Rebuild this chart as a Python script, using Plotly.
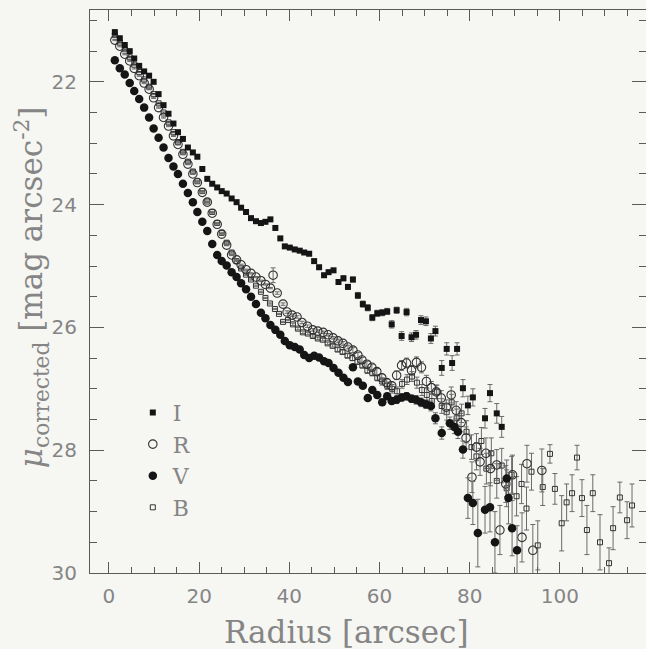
import plotly.graph_objects as go

# Surface-brightness profiles, mu_corrected [mag arcsec^-2] versus radius [arcsec]

# ---- I band ----
r_I = [1.3, 2.4, 3.5, 4.6, 5.6, 6.7, 7.8, 8.9, 9.9,
       11.0, 12.1, 13.2, 14.3, 15.3, 16.4, 17.5, 18.6, 19.6,
       20.7, 21.8, 22.9, 24.0, 25.0, 26.1, 27.2, 28.3, 29.3,
       30.4, 31.5, 32.6, 33.7, 34.7, 35.8, 36.9, 38.0, 39.0,
       40.1, 41.2, 42.3, 43.3, 44.4, 45.5, 46.6, 47.7, 48.7, 49.8,
       50.9, 52.0, 53.0, 54.1, 55.2, 56.3, 57.4, 58.4, 59.5,
       60.6, 61.7, 62.7, 63.8, 64.9, 66.0, 67.1, 68.1, 69.2,
       70.3, 71.4, 72.4, 73.8, 74.9, 76.1, 77.2, 78.5, 79.6,
       80.7, 83.4, 84.5, 86.0, 87.1]
mu_I = [21.19, 21.29, 21.40, 21.50, 21.62, 21.74, 21.83, 21.90, 22.00,
        22.20, 22.38, 22.52, 22.68, 22.82, 22.93, 23.07, 23.15, 23.22,
        23.42, 23.58, 23.66, 23.72, 23.78, 23.82, 23.90, 23.96, 24.05,
        24.12, 24.22, 24.27, 24.30, 24.28, 24.24, 24.38, 24.55, 24.68,
        24.70, 24.73, 24.75, 24.78, 24.80, 24.92, 25.02, 25.15, 25.10, 25.07,
        25.26, 25.20, 25.34, 25.22, 25.48, 25.62, 25.68, 25.84, 25.77,
        25.76, 25.74, 25.95, 25.72, 26.14, 25.75, 26.16, 26.12, 25.88,
        25.90, 26.18, 26.06, 26.66, 26.35, 26.58, 26.35, 26.99, 27.27,
        27.14, 27.48, 27.07, 27.40, 27.62]
err_I = [0.01, 0.01, 0.01, 0.01, 0.01, 0.01, 0.01, 0.01, 0.01,
         0.01, 0.01, 0.01, 0.01, 0.01, 0.01, 0.01, 0.01, 0.01,
         0.01, 0.01, 0.01, 0.01, 0.01, 0.01, 0.01, 0.01, 0.01,
         0.01, 0.01, 0.01, 0.01, 0.01, 0.01, 0.01, 0.01, 0.01,
         0.02, 0.02, 0.02, 0.02, 0.03, 0.03, 0.03, 0.03, 0.03, 0.03,
         0.04, 0.04, 0.04, 0.04, 0.05, 0.05, 0.05, 0.05, 0.05,
         0.05, 0.05, 0.06, 0.05, 0.07, 0.06, 0.07, 0.07, 0.07,
         0.07, 0.08, 0.08, 0.12, 0.10, 0.12, 0.10, 0.14, 0.15,
         0.14, 0.16, 0.14, 0.16, 0.17]

# ---- R band ----
r_R = [1.3, 2.4, 3.5, 4.6, 5.6, 6.7, 7.8, 8.9, 9.9,
       11.0, 12.1, 13.2, 14.3, 15.3, 16.4, 17.5, 18.6, 19.6,
       20.7, 21.8, 22.9, 24.0, 25.0, 26.1, 27.2, 28.3, 29.3,
       30.4, 31.5, 32.6, 33.7, 34.7, 35.8, 36.4, 37.3, 38.6, 39.5,
       40.6, 41.7, 42.8, 44.0, 45.2, 46.3, 47.5, 48.6, 49.7,
       50.8, 51.9, 53.0, 54.1, 55.2, 56.1, 57.2, 58.3, 59.4,
       60.5, 61.6, 62.7, 63.8, 64.9, 66.0, 67.1, 68.2, 69.3,
       70.4, 71.5, 72.6, 73.7, 74.8, 75.9, 77.0, 78.1, 79.2,
       80.5, 81.5, 82.3, 83.6, 84.6, 86.0, 86.7, 88.0, 89.5,
       91.6, 92.7, 94.0, 96.0]
mu_R = [21.32, 21.42, 21.55, 21.66, 21.78, 21.90, 22.02, 22.12, 22.26,
        22.42, 22.58, 22.72, 22.88, 23.02, 23.18, 23.34, 23.50, 23.64,
        23.80, 23.96, 24.14, 24.32, 24.48, 24.66, 24.82, 24.90, 24.98,
        25.06, 25.12, 25.18, 25.24, 25.30, 25.36, 25.15, 25.44, 25.62, 25.75,
        25.80, 25.83, 25.92, 25.98, 26.04, 26.06, 26.08, 26.12, 26.17,
        26.22, 26.26, 26.32, 26.37, 26.45, 26.53, 26.60, 26.65, 26.72,
        26.82, 26.90, 26.95, 26.78, 26.62, 26.58, 26.70, 26.57, 26.65,
        26.88, 26.98, 27.05, 27.15, 27.30, 27.10, 27.35, 27.55, 27.80,
        28.44, 27.95, 28.19, 28.05, 28.30, 28.24, 29.30, 28.55, 28.40,
        29.42, 28.22, 29.63, 28.33]
err_R = [0.01, 0.01, 0.01, 0.01, 0.01, 0.01, 0.01, 0.01, 0.01,
         0.01, 0.01, 0.01, 0.01, 0.01, 0.01, 0.01, 0.01, 0.01,
         0.01, 0.01, 0.01, 0.01, 0.01, 0.01, 0.01, 0.01, 0.01,
         0.01, 0.01, 0.01, 0.01, 0.01, 0.01, 0.12, 0.02, 0.02, 0.02,
         0.02, 0.02, 0.02, 0.02, 0.02, 0.02, 0.02, 0.02, 0.02,
         0.03, 0.03, 0.03, 0.04, 0.04, 0.04, 0.05, 0.05, 0.05,
         0.06, 0.06, 0.06, 0.07, 0.08, 0.08, 0.08, 0.09, 0.09,
         0.10, 0.10, 0.11, 0.12, 0.12, 0.13, 0.14, 0.15, 0.18,
         0.25, 0.22, 0.22, 0.25, 0.28, 0.25, 0.40, 0.30, 0.32,
         0.40, 0.30, 0.42, 0.35]

# ---- V band ----
r_V = [1.3, 2.4, 3.5, 4.6, 5.6, 6.7, 7.8, 8.9, 9.9,
       11.0, 12.1, 13.2, 14.3, 15.3, 16.4, 17.5, 18.6, 19.6,
       20.7, 21.8, 22.9, 24.0, 25.0, 26.1, 27.2, 28.3, 29.3,
       30.4, 31.5, 32.6, 33.7, 34.7, 35.8, 36.9, 38.0, 39.0,
       40.1, 41.2, 42.3, 43.3, 44.4, 45.5, 46.6, 47.7, 48.7, 49.8,
       50.9, 52.0, 53.0, 54.1, 55.2, 56.3, 57.4, 58.4, 59.5,
       60.6, 61.7, 62.7, 63.8, 64.9, 66.0, 67.1, 68.1, 69.2,
       70.3, 71.4, 72.4, 73.8, 75.6, 76.6, 77.4, 78.5, 79.6,
       80.7, 81.8, 83.4, 84.5, 85.6, 88.2, 88.6, 89.4, 90.5]
mu_V = [21.65, 21.78, 21.88, 22.02, 22.15, 22.28, 22.42, 22.58, 22.76,
        22.91, 23.07, 23.24, 23.38, 23.50, 23.66, 23.81, 23.96, 24.12,
        24.28, 24.43, 24.64, 24.82, 24.92, 24.99, 25.10, 25.18, 25.28,
        25.38, 25.50, 25.62, 25.76, 25.85, 25.96, 26.04, 26.12, 26.22,
        26.29, 26.32, 26.36, 26.45, 26.50, 26.46, 26.49, 26.55, 26.58, 26.66,
        26.74, 26.82, 26.89, 26.65, 26.88, 26.95, 27.15, 27.02, 27.10,
        27.22, 27.12, 27.20, 27.18, 27.14, 27.12, 27.16, 27.18, 27.22,
        27.25, 27.28, 27.48, 27.72, 27.56, 27.62, 27.70, 27.99, 28.78,
        28.86, 29.35, 28.97, 28.93, 29.50, 28.46, 28.78, 29.27, 29.63]
err_V = [0.01, 0.01, 0.01, 0.01, 0.01, 0.01, 0.01, 0.01, 0.01,
         0.01, 0.01, 0.01, 0.01, 0.01, 0.01, 0.01, 0.01, 0.01,
         0.01, 0.01, 0.01, 0.01, 0.01, 0.01, 0.01, 0.01, 0.01,
         0.01, 0.01, 0.01, 0.01, 0.01, 0.01, 0.01, 0.01, 0.01,
         0.02, 0.02, 0.02, 0.02, 0.02, 0.02, 0.02, 0.02, 0.02, 0.02,
         0.03, 0.03, 0.03, 0.03, 0.04, 0.04, 0.04, 0.04, 0.05,
         0.05, 0.05, 0.05, 0.06, 0.06, 0.06, 0.06, 0.07, 0.07,
         0.07, 0.08, 0.09, 0.10, 0.10, 0.11, 0.11, 0.14, 0.33,
         0.35, 0.55, 0.38, 0.40, 0.50, 0.30, 0.42, 0.45, 0.40]

# ---- B band ----
r_B = [1.3, 2.4, 3.5, 4.6, 5.6, 6.7, 7.8, 8.9, 9.9,
       11.0, 12.1, 13.2, 14.3, 15.3, 16.4, 17.5, 18.6, 19.6,
       20.7, 21.8, 22.9, 24.0, 25.0, 26.1, 27.2, 28.3, 29.3,
       30.4, 31.5, 32.6, 33.7, 34.7, 35.7, 36.8, 37.7, 38.6, 39.7,
       40.8, 41.9, 43.0, 44.1, 45.2, 46.3, 47.4, 48.5, 49.6,
       50.7, 51.8, 52.9, 54.0, 55.1, 56.2, 57.3, 58.4, 59.5,
       60.6, 61.7, 62.8, 63.9, 65.0, 66.1, 67.2, 68.3, 69.4,
       70.5, 71.6, 72.7, 73.8, 74.9, 76.0, 77.1, 78.2, 79.3,
       80.4, 81.5, 82.6, 83.7, 84.8, 86.0, 87.1, 88.2, 89.3,
       90.4, 91.5, 92.6, 93.7, 95.1, 96.2, 97.8, 98.9, 100.4,
       101.5, 102.7, 103.8, 104.9, 106.0, 107.3, 108.9, 110.9, 111.8,
       113.3, 114.9, 116.0]
mu_B = [21.24, 21.36, 21.47, 21.60, 21.72, 21.84, 21.96, 22.08, 22.20,
        22.35, 22.50, 22.66, 22.82, 22.98, 23.14, 23.30, 23.46, 23.62,
        23.78, 23.95, 24.12, 24.30, 24.46, 24.62, 24.78, 24.92, 25.04,
        25.14, 25.22, 25.32, 25.42, 25.52, 25.61, 25.70, 25.78, 25.91, 25.88,
        25.95, 26.02, 26.08, 26.10, 26.14, 26.18, 26.20, 26.26, 26.30,
        26.36, 26.40, 26.46, 26.50, 26.56, 26.62, 26.70, 26.74, 26.82,
        26.88, 26.95, 27.00, 27.04, 26.92, 26.85, 26.80, 26.90, 27.02,
        27.10, 27.20, 27.05, 27.28, 27.38, 27.22, 27.48, 27.40, 27.70,
        27.95, 28.10, 27.85, 28.30, 28.05, 28.50, 28.25, 28.62, 28.40,
        28.75, 28.55, 28.95, 28.35, 29.55, 28.60, 28.06, 28.63, 29.19,
        28.85, 28.70, 28.12, 28.78, 29.30, 28.70, 29.50, 29.84, 29.27,
        28.77, 29.14, 28.90]
err_B = [0.01, 0.01, 0.01, 0.01, 0.01, 0.01, 0.01, 0.01, 0.01,
         0.01, 0.01, 0.01, 0.01, 0.01, 0.01, 0.01, 0.01, 0.01,
         0.01, 0.01, 0.01, 0.01, 0.01, 0.01, 0.01, 0.01, 0.01,
         0.01, 0.01, 0.01, 0.01, 0.01, 0.01, 0.01, 0.01, 0.01, 0.01,
         0.02, 0.02, 0.02, 0.02, 0.02, 0.02, 0.02, 0.02, 0.02,
         0.03, 0.03, 0.03, 0.04, 0.04, 0.04, 0.05, 0.05, 0.05,
         0.06, 0.06, 0.07, 0.07, 0.07, 0.08, 0.08, 0.09, 0.09,
         0.10, 0.11, 0.11, 0.12, 0.13, 0.13, 0.15, 0.15, 0.18,
         0.20, 0.22, 0.22, 0.25, 0.25, 0.28, 0.28, 0.30, 0.30,
         0.32, 0.32, 0.35, 0.30, 0.40, 0.30, 0.15, 0.25, 0.45,
         0.30, 0.30, 0.20, 0.30, 0.40, 0.30, 0.45, 0.25, 0.35,
         0.25, 0.30, 0.35]

band_names = ["I", "R", "V", "B"]

INK = "#151515"
AXIS = "#5a5a5a"
TEXT = "#858585"
BG = "#f6f6f3"
SERIF = "DejaVu Serif, Liberation Serif, serif"


def err_bars(values):
    return dict(type="data", array=values, visible=True,
                color="#6a6a6a", thickness=1, width=2.5)


fig = go.Figure()

# open symbols first so the filled points sit on top
fig.add_trace(go.Scatter(
    x=r_B, y=mu_B, mode="markers", name=band_names[3], legendrank=4,
    error_y=err_bars(err_B),
    marker=dict(symbol="square-open", size=5, color="#333333",
                line=dict(width=1, color="#333333"))))
fig.add_trace(go.Scatter(
    x=r_R, y=mu_R, mode="markers", name=band_names[1], legendrank=2,
    error_y=err_bars(err_R),
    marker=dict(symbol="circle-open", size=8.5, color="#303030",
                line=dict(width=1.1, color="#303030"))))
fig.add_trace(go.Scatter(
    x=r_V, y=mu_V, mode="markers", name=band_names[2], legendrank=3,
    error_y=err_bars(err_V),
    marker=dict(symbol="circle", size=8.5, color=INK)))
fig.add_trace(go.Scatter(
    x=r_I, y=mu_I, mode="markers", name=band_names[0], legendrank=1,
    error_y=err_bars(err_I),
    marker=dict(symbol="square", size=6, color=INK)))

axis_common = dict(
    showline=True, linecolor=AXIS, linewidth=1, mirror="ticks",
    ticks="inside", tickcolor=AXIS, tickwidth=1,
    showgrid=False, zeroline=False,
    tickfont=dict(family="DejaVu Sans, sans-serif", size=20, color=TEXT),
)

fig.update_xaxes(range=[-4.21, 119.1], tick0=0, dtick=20, ticklen=11,
                 ticklabelstandoff=5,
                 minor=dict(dtick=5, ticks="inside", ticklen=6,
                            tickcolor=AXIS, showgrid=False),
                 **axis_common)
fig.update_yaxes(range=[30, 20.83], tick0=0, dtick=2, ticklen=14,
                 ticklabelstandoff=8,
                 minor=dict(dtick=0.5, ticks="inside", ticklen=7,
                            tickcolor=AXIS, showgrid=False),
                 **axis_common)

fig.update_layout(
    width=646, height=649,
    margin=dict(l=90, r=0, t=10, b=76),
    paper_bgcolor=BG, plot_bgcolor=BG,
    showlegend=True,
    legend=dict(x=0.077, y=0.322, xanchor="left", yanchor="top",
                bgcolor="rgba(0,0,0,0)", borderwidth=0,
                font=dict(family=SERIF, size=22, color=TEXT),
                itemwidth=30, tracegroupgap=0),
    annotations=[
        dict(text="Radius [arcsec]", xref="paper", yref="paper",
             x=0.462, y=-0.104, xanchor="center", yanchor="middle",
             showarrow=False,
             font=dict(family=SERIF, size=31, color=TEXT)),
        dict(text="<i>μ</i><sub>corrected</sub> [mag arcsec<sup>-2</sup>]",
             xref="paper", yref="paper", x=-0.104, y=0.508,
             xanchor="center", yanchor="middle", textangle=-90,
             showarrow=False,
             font=dict(family=SERIF, size=31, color=TEXT)),
    ],
)

fig.write_html("out.html")
